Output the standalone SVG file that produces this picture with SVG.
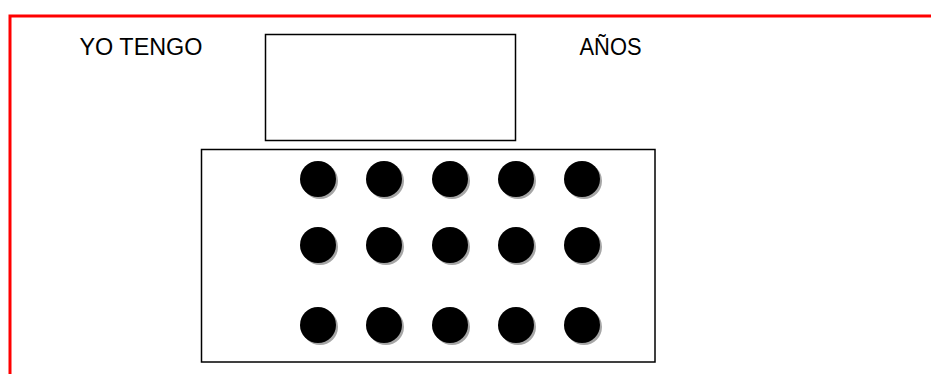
<svg xmlns="http://www.w3.org/2000/svg" width="931" height="374" viewBox="0 0 931 374">
<defs>
<style>
.lbl{font-family:"Liberation Sans","Open Sans",Arial,sans-serif;font-size:23.5px;fill:#000}
.box{fill:#fff;stroke:#000;stroke-width:1.5}
.shadow{fill:#a6a6a6}
.dot{fill:#000}
</style>
<g id="bead">
<circle class="shadow" cx="2" cy="2" r="18"/>
<circle class="dot" cx="0" cy="0" r="18"/>
</g>
</defs>
<rect width="931" height="374" fill="#fff"/>
<g id="frame">
<path d="M10,374 V16 H931" fill="none" stroke="#ff0000" stroke-width="3"/>
</g>
<g id="label-yo-tengo">
<text class="lbl" x="79.5" y="55" textLength="123" lengthAdjust="spacingAndGlyphs">YO TENGO</text>
</g>
<g id="label-anos">
<text class="lbl" x="579.5" y="55" textLength="62" lengthAdjust="spacingAndGlyphs">AÑOS</text>
</g>
<g id="answer-box">
<rect class="box" x="265.5" y="34.5" width="250" height="106"/>
</g>
<g id="bead-box">
<rect class="box" x="201.5" y="149.5" width="453.5" height="212.5"/>
<use href="#bead" x="318" y="179"/>
<use href="#bead" x="384" y="179"/>
<use href="#bead" x="450" y="179"/>
<use href="#bead" x="516" y="179"/>
<use href="#bead" x="582" y="179"/>
<use href="#bead" x="318" y="245"/>
<use href="#bead" x="384" y="245"/>
<use href="#bead" x="450" y="245"/>
<use href="#bead" x="516" y="245"/>
<use href="#bead" x="582" y="245"/>
<use href="#bead" x="318" y="325"/>
<use href="#bead" x="384" y="325"/>
<use href="#bead" x="450" y="325"/>
<use href="#bead" x="516" y="325"/>
<use href="#bead" x="582" y="325"/>
</g>
</svg>
